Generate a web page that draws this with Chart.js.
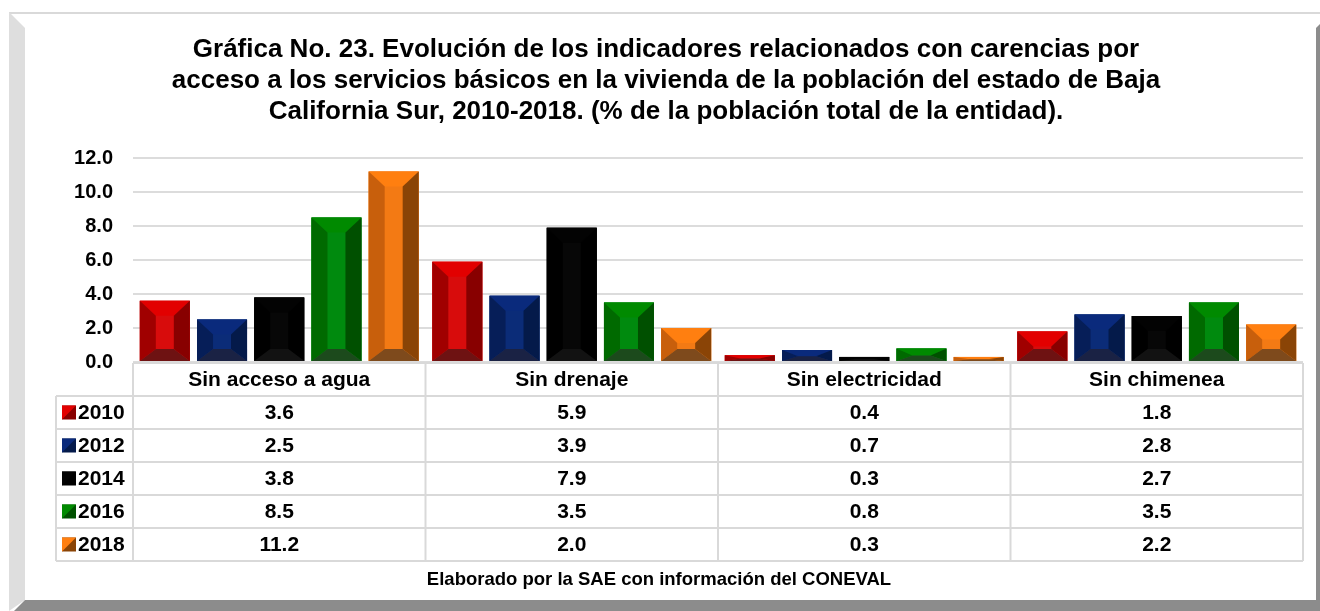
<!DOCTYPE html>
<html>
<head>
<meta charset="utf-8">
<script src="https://cdn.jsdelivr.net/npm/chart.js@4.4.0/dist/chart.umd.min.js"></script>
<style>
  html, body { margin: 0; padding: 0; background: #fff; }
  #wrap { position: relative; width: 1320px; height: 611px; }
</style>
</head>
<body>
<div id="wrap"><canvas id="grafica" width="1320" height="611"></canvas></div>
<script>
// ----------------- Datos -----------------
const categorias = ['Sin acceso a agua', 'Sin drenaje', 'Sin electricidad', 'Sin chimenea'];
const anios = ['2010', '2012', '2014', '2016', '2018'];
const v2010 = [3.6, 5.9, 0.4, 1.8];
const v2012 = [2.5, 3.9, 0.7, 2.8];
const v2014 = [3.8, 7.9, 0.3, 2.7];
const v2016 = [8.5, 3.5, 0.8, 3.5];
const v2018 = [11.2, 2.0, 0.3, 2.2];
const ticksY = [0, 2, 4, 6, 8, 10, 12];

const titulo = [
    'Gráfica No. 23. Evolución de los indicadores relacionados con carencias por',
    'acceso a los servicios básicos en la vivienda de la población del estado de Baja',
    'California Sur, 2010-2018. (% de la población total de la entidad).'
];
const fuente = 'Elaborado por la SAE con información del CONEVAL';

// colores de cada cara del bisel: centro, arriba, izquierda, derecha, abajo
const colores = [
    { c: '#d80c0c', t: '#e20000', l: '#a00000', r: '#880000', b: '#6e1212' },
    { c: '#0b2c78', t: '#0a2a7c', l: '#061e58', r: '#041a4a', b: '#1a2244' },
    { c: '#070707', t: '#030303', l: '#000000', r: '#000000', b: '#121212' },
    { c: '#008a0e', t: '#008a00', l: '#006a00', r: '#005000', b: '#1c4a1c' },
    { c: '#f37a14', t: '#ff7f10', l: '#c85f0c', r: '#8a4406', b: '#7e4a1c' }
];

const FONT = '"Liberation Sans", Arial, sans-serif';
const LINEA = '#d9d9d9';

// ----------------- Marco -----------------
const marco = {
    id: 'marco',
    beforeDraw(chart) {
        const ctx = chart.ctx;
        ctx.save();
        ctx.fillStyle = '#d9d9d9';
        ctx.fillRect(9, 12, 1311, 2);
        ctx.fillStyle = '#dedede';
        ctx.beginPath();
        ctx.moveTo(9, 12); ctx.lineTo(25, 28); ctx.lineTo(25, 600); ctx.lineTo(9, 611);
        ctx.closePath(); ctx.fill();
        ctx.fillStyle = '#8c8c8c';
        ctx.beginPath();
        ctx.moveTo(25, 600); ctx.lineTo(1320, 600); ctx.lineTo(1320, 611); ctx.lineTo(14, 611);
        ctx.closePath(); ctx.fill();
        ctx.beginPath();
        ctx.moveTo(1316, 28); ctx.lineTo(1320, 24); ctx.lineTo(1320, 611); ctx.lineTo(1316, 611);
        ctx.closePath(); ctx.fill();
        ctx.restore();
    }
};

// ----------------- Barras biseladas -----------------
const bisel = {
    id: 'bisel',
    afterDatasetsDraw(chart) {
        const ctx = chart.ctx;
        chart.data.datasets.forEach((ds, i) => {
            const col = colores[i];
            chart.getDatasetMeta(i).data.forEach(bar => {
                const p = bar.getProps(['x', 'y', 'base', 'width'], true);
                const L = p.x - p.width / 2, R = p.x + p.width / 2;
                const T = p.y, B = p.base, h = B - T;
                const bx = Math.min(16, p.width / 3);
                let bt = 15, bb = 12;
                if (h < bt + bb) { bt = h * 15 / 27; bb = h * 12 / 27; }
                const il = L + bx, ir = R - bx, it = T + bt, ib = B - bb;
                const cara = (pts, c) => {
                    ctx.fillStyle = c;
                    ctx.beginPath();
                    ctx.moveTo(pts[0], pts[1]);
                    for (let k = 2; k < pts.length; k += 2) ctx.lineTo(pts[k], pts[k + 1]);
                    ctx.closePath();
                    ctx.fill();
                };
                ctx.save();
                ctx.fillStyle = col.c;
                ctx.fillRect(L, T, R - L, h);
                cara([L, T, R, T, ir, it, il, it], col.t);
                cara([L, T, il, it, il, ib, L, B], col.l);
                cara([R, T, R, B, ir, ib, ir, it], col.r);
                cara([L, B, il, ib, ir, ib, R, B], col.b);
                ctx.restore();
            });
        });
    }
};

// ----------------- Título, tabla y fuente -----------------
const tabla = {
    id: 'tabla',
    afterDraw(chart) {
        const ctx = chart.ctx;
        const x = chart.scales.x;
        const area = chart.chartArea;
        const izq = 56, top = area.bottom + 1, filaH = 33;
        const anchoCol = (area.right - area.left) / categorias.length;
        const series = chart.data.datasets;

        ctx.save();
        // título
        ctx.fillStyle = '#000';
        ctx.font = 'bold 26px ' + FONT;
        ctx.textAlign = 'center';
        ctx.textBaseline = 'alphabetic';
        titulo.forEach((t, k) => ctx.fillText(t, 666, 57 + k * 31));

        // líneas de la tabla
        ctx.strokeStyle = LINEA;
        ctx.lineWidth = 2;
        ctx.beginPath();
        ctx.moveTo(area.left, top); ctx.lineTo(area.right, top);
        for (let r = 1; r <= series.length + 1; r++) {
            ctx.moveTo(izq, top + r * filaH); ctx.lineTo(area.right, top + r * filaH);
        }
        for (let c = 0; c <= categorias.length; c++) {
            const xx = area.left + c * anchoCol;
            ctx.moveTo(xx, top); ctx.lineTo(xx, top + (series.length + 1) * filaH);
        }
        ctx.moveTo(izq, top + filaH); ctx.lineTo(izq, top + (series.length + 1) * filaH);
        ctx.stroke();

        // encabezados y valores
        ctx.fillStyle = '#000';
        ctx.font = 'bold 21px ' + FONT;
        ctx.textBaseline = 'middle';
        ctx.textAlign = 'center';
        categorias.forEach((cat, c) => {
            const cx = x.getPixelForValue(c);
            ctx.fillText(cat, cx, top + filaH / 2 + 1);
            series.forEach((ds, r) => {
                ctx.fillText(ds.data[c].toFixed(1), cx, top + (r + 1.5) * filaH + 1);
            });
        });

        // leyenda
        series.forEach((ds, r) => {
            const cy = top + (r + 1.5) * filaH;
            const col = colores[r];
            const sx = 62, sy = cy - 7, s = 14;
            ctx.fillStyle = col.r;
            ctx.fillRect(sx, sy, s, s);
            ctx.fillStyle = col.t;
            ctx.beginPath();
            ctx.moveTo(sx, sy); ctx.lineTo(sx + s, sy); ctx.lineTo(sx, sy + s);
            ctx.closePath(); ctx.fill();
            ctx.fillStyle = '#000';
            ctx.textAlign = 'left';
            ctx.fillText(ds.label, 78, cy + 1);
        });

        // fuente
        ctx.font = 'bold 18.5px ' + FONT;
        ctx.textAlign = 'center';
        ctx.fillText(fuente, 659, 580);
        ctx.restore();
    }
};

const series = [v2010, v2012, v2014, v2016, v2018];

new Chart(document.getElementById('grafica'), {
    type: 'bar',
    data: {
        labels: categorias,
        datasets: anios.map((a, i) => ({
            label: a,
            data: series[i],
            backgroundColor: colores[i].c,
            borderWidth: 0,
            categoryPercentage: 0.978,
            barPercentage: 0.874
        }))
    },
    options: {
        responsive: false,
        animation: false,
        layout: { padding: { top: 158, right: 17, bottom: 249, left: 0 } },
        plugins: {
            legend: { display: false },
            title: { display: false },
            tooltip: { enabled: false }
        },
        scales: {
            x: { display: false, offset: true },
            y: {
                min: 0,
                max: 12,
                afterFit(scale) { scale.width = 133; },
                afterBuildTicks(scale) { scale.ticks = ticksY.map(v => ({ value: v })); },
                border: { display: false },
                grid: { color: '#dcdcdc', lineWidth: 2, drawTicks: false },
                ticks: {
                    padding: 20,
                    color: '#000',
                    font: { family: FONT, size: 20, weight: 'bold' },
                    callback: v => v.toFixed(1)
                }
            }
        }
    },
    plugins: [marco, bisel, tabla]
});
</script>
</body>
</html>
